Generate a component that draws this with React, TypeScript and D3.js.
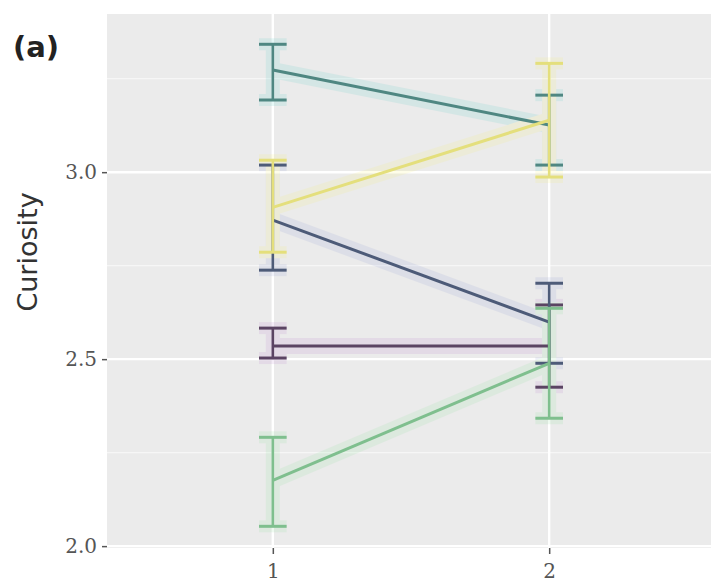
import React, { useEffect, useRef } from 'react';
import * as d3 from 'd3';

const groups = ['1', '2'];
const seriesNames = ['s1', 's2', 's3', 's4', 's5'];
const meanT1 = [2.535, 2.872, 3.273, 2.176, 2.906];
const meanT2 = [2.535, 2.599, 3.126, 2.489, 3.139];
const lowT1 = [2.503, 2.738, 3.193, 2.053, 2.786];
const highT1 = [2.583, 3.019, 3.342, 2.291, 3.032];
const lowT2 = [2.425, 2.489, 3.019, 2.342, 2.987];
const highT2 = [2.645, 2.703, 3.206, 2.636, 3.291];
const yTicks = [2.0, 2.5, 3.0];
const yMinor = [2.25, 2.75, 3.25];

// viridis-ish, washed out like the reference
const lineColors = ['#5b4463', '#4d5b78', '#4f8782', '#7fbf8e', '#e4df7c'];
const haloColors = ['#b070c8', '#8090d0', '#40c8c0', '#80e090', '#f8f060'];

export default function App() {
  const svgRef = useRef<SVGSVGElement>(null);
  const W = 711;
  const H = 582;

  useEffect(() => {
    const svg = d3.select(svgRef.current);
    svg.selectAll('*').remove();

    const panel = { left: 107, right: 715, top: 14, bottom: 548 };

    const x = d3.scaleLinear().domain([0.4, 2.6]).range([panel.left, panel.right]);
    const y = d3.scaleLinear().domain([1.995, 3.423]).range([panel.bottom, panel.top]);

    svg
      .append('rect')
      .attr('x', panel.left)
      .attr('y', panel.top)
      .attr('width', panel.right - panel.left)
      .attr('height', panel.bottom - panel.top)
      .attr('fill', '#ebebeb');

    const grid = svg.append('g');
    grid
      .selectAll('.minor')
      .data(yMinor)
      .join('line')
      .attr('x1', panel.left)
      .attr('x2', panel.right)
      .attr('y1', (d) => y(d))
      .attr('y2', (d) => y(d))
      .attr('stroke', '#f6f6f6')
      .attr('stroke-width', 1.2);
    grid
      .selectAll('.major')
      .data(yTicks)
      .join('line')
      .attr('x1', panel.left)
      .attr('x2', panel.right)
      .attr('y1', (d) => y(d))
      .attr('y2', (d) => y(d))
      .attr('stroke', '#ffffff')
      .attr('stroke-width', 2.4);
    grid
      .selectAll('.vmajor')
      .data(groups)
      .join('line')
      .attr('x1', (d) => x(+d))
      .attr('x2', (d) => x(+d))
      .attr('y1', panel.top)
      .attr('y2', panel.bottom)
      .attr('stroke', '#ffffff')
      .attr('stroke-width', 2.4);

    const rows = seriesNames.map((name, i) => ({
      name,
      i,
      pts: [
        { g: 1, m: meanT1[i], lo: lowT1[i], hi: highT1[i] },
        { g: 2, m: meanT2[i], lo: lowT2[i], hi: highT2[i] },
      ],
    }));

    const line = d3
      .line<{ g: number; m: number }>()
      .x((d) => x(d.g))
      .y((d) => y(d.m));

    const capHalf = (x(1.05) - x(0.95)) / 2;

    const drawLayer = (halo: boolean) => {
      const layer = svg.append('g').attr('opacity', halo ? 0.13 : 1);
      rows.forEach((r) => {
        const col = halo ? haloColors[r.i] : lineColors[r.i];
        const sw = halo ? 16 : 3;
        const g = layer.append('g').attr('stroke', col).attr('fill', 'none');
        g.append('path').attr('d', line(r.pts)).attr('stroke-width', sw);
        r.pts.forEach((p) => {
          const cx = x(p.g);
          g.append('line')
            .attr('x1', cx)
            .attr('x2', cx)
            .attr('y1', y(p.lo))
            .attr('y2', y(p.hi))
            .attr('stroke-width', halo ? 14 : 2.6);
          [p.lo, p.hi].forEach((v) => {
            g.append('line')
              .attr('x1', cx - capHalf)
              .attr('x2', cx + capHalf)
              .attr('y1', y(v))
              .attr('y2', y(v))
              .attr('stroke-width', halo ? 12 : 3);
          });
        });
      });
    };
    drawLayer(true);
    drawLayer(false);

    // axes
    const yAxis = svg
      .append('g')
      .attr('transform', `translate(${panel.left},0)`)
      .call(d3.axisLeft(y).tickValues(yTicks).tickSize(5).tickPadding(5).tickFormat(d3.format('.1f')));
    yAxis.select('.domain').remove();
    yAxis.selectAll('line').attr('stroke', '#555').attr('stroke-width', 1.5);
    yAxis
      .selectAll('text')
      .attr('fill', '#555')
      .style('font-family', 'DejaVu Serif')
      .style('font-size', '20px');

    const xAxis = svg
      .append('g')
      .attr('transform', `translate(0,${panel.bottom})`)
      .call(d3.axisBottom(x).tickValues(groups.map(Number)).tickSize(6).tickPadding(10).tickFormat(d3.format('d')));
    xAxis.select('.domain').remove();
    xAxis.selectAll('line').attr('stroke', '#555').attr('stroke-width', 1.5);
    xAxis
      .selectAll('text')
      .attr('fill', '#555')
      .style('font-family', 'DejaVu Serif')
      .style('font-size', '20px');

    svg
      .append('text')
      .attr('transform', `translate(37,252) rotate(-90)`)
      .attr('text-anchor', 'middle')
      .attr('fill', '#333')
      .style('font-family', 'DejaVu Sans')
      .style('font-size', '27px')
      .text('Curiosity');

    svg
      .append('text')
      .attr('x', 13)
      .attr('y', 57)
      .attr('fill', '#222')
      .style('font-family', 'DejaVu Sans')
      .style('font-weight', 'bold')
      .style('font-size', '29px')
      .text('(a)');
  }, []);

  return (
    <svg
      ref={svgRef}
      width={W}
      height={H}
      style={{ position: 'absolute', left: 0, top: 0, background: '#fff' }}
    />
  );
}
